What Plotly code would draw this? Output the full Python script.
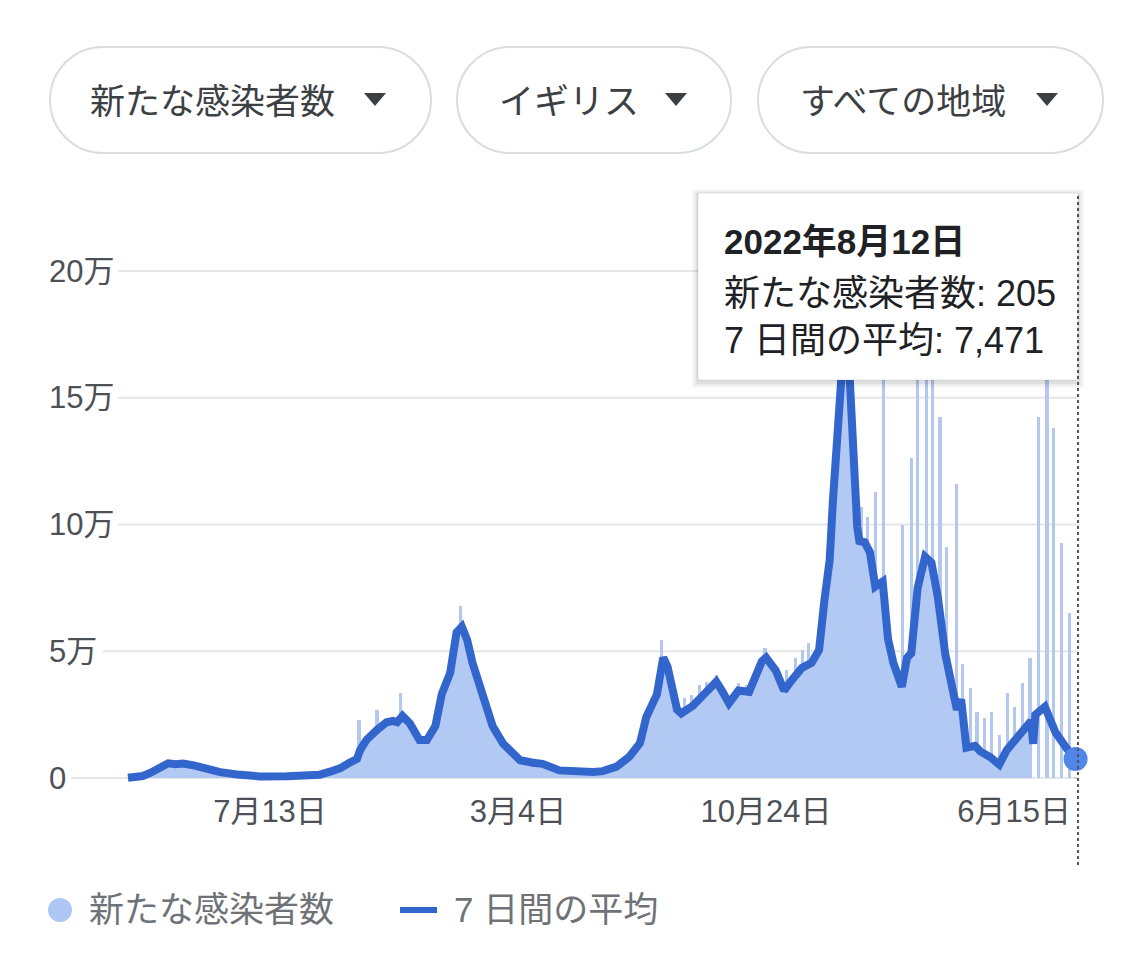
import plotly.graph_objects as go
import pandas as pd

# ---------------- data ----------------
avg_dates = [
    "2020-03-01", "2020-03-08", "2020-03-15", "2020-03-22", "2020-03-29", "2020-04-03", "2020-04-08",
    "2020-04-15", "2020-04-22", "2020-05-02", "2020-05-08", "2020-05-15", "2020-05-27", "2020-06-12",
    "2020-07-04", "2020-07-29", "2020-08-10", "2020-08-29", "2020-09-10", "2020-09-17", "2020-09-26",
    "2020-10-03", "2020-10-06", "2020-10-12", "2020-10-22", "2020-10-31", "2020-11-06", "2020-11-10",
    "2020-11-15", "2020-11-22", "2020-12-01", "2020-12-08", "2020-12-16", "2020-12-22", "2020-12-30",
    "2021-01-05", "2021-01-10", "2021-01-15", "2021-01-20", "2021-01-30", "2021-02-08", "2021-02-18",
    "2021-02-24", "2021-03-06", "2021-03-18", "2021-03-27", "2021-04-12", "2021-04-25", "2021-05-14",
    "2021-05-23", "2021-06-05", "2021-06-17", "2021-06-27", "2021-07-03", "2021-07-13", "2021-07-19",
    "2021-07-23", "2021-08-01", "2021-08-05", "2021-08-16", "2021-08-29", "2021-09-07", "2021-09-12",
    "2021-09-19", "2021-09-28", "2021-10-08", "2021-10-20", "2021-10-24", "2021-11-02", "2021-11-10",
    "2021-11-17", "2021-11-27", "2021-12-06", "2021-12-13", "2021-12-18", "2021-12-23", "2021-12-26",
    "2021-12-31", "2022-01-04", "2022-01-07", "2022-01-11", "2022-01-14", "2022-01-18", "2022-01-20",
    "2022-01-25", "2022-01-30", "2022-02-04", "2022-02-11", "2022-02-16", "2022-02-21", "2022-03-01",
    "2022-03-06", "2022-03-10", "2022-03-16", "2022-03-23", "2022-03-29", "2022-04-04", "2022-04-11",
    "2022-04-17", "2022-04-22", "2022-04-26", "2022-04-27", "2022-05-01", "2022-05-09", "2022-05-14",
    "2022-05-23", "2022-06-01", "2022-06-08", "2022-06-19", "2022-07-01", "2022-07-03", "2022-07-05",
    "2022-07-14", "2022-07-24", "2022-08-03", "2022-08-12",
]
avg_values = [
    100, 300, 800, 2000, 3500, 4800, 5800,
    5400, 5700, 5000, 4300, 3400, 2300, 1400,
    600, 700, 900, 1300, 2800, 3800, 6000,
    7500, 11000, 15000, 19000, 22000, 22500, 22000,
    24500, 21500, 15000, 15000, 20500, 33000, 41500,
    57500, 59700, 54500, 45500, 31000, 20500, 13500,
    11000, 7000, 6000, 5600, 3000, 2600, 2400,
    2700, 4500, 8400, 13700, 24000, 33000, 47500,
    44000, 27000, 25500, 28500, 34000, 38000, 34700,
    29500, 34500, 34000, 46000, 47500, 42500, 34500,
    38500, 43500, 45500, 50500, 70000, 86000, 109000,
    138000, 160000, 182000, 157000, 125500, 99000, 93500,
    93000, 89000, 75500, 77500, 55000, 45500, 36000,
    47500, 49200, 75000, 87300, 85000, 71500, 49000,
    36000, 27000, 31000, 25000, 12000, 12700, 10500,
    8400, 5300, 11000, 16300, 22500, 13500, 25000,
    28100, 18000, 12000, 7471,
]

# last day on which the daily bars still form a continuous band
dense_until = "2022-07-01"

spike_dates = [
    "2020-10-05", "2020-10-22", "2020-11-13", "2021-01-09", "2021-07-17", "2021-08-08", "2021-08-15",
    "2021-08-22", "2021-08-29", "2021-09-07", "2021-09-28", "2021-10-06", "2021-10-13", "2021-10-23",
    "2021-11-12", "2021-11-21", "2021-11-27", "2021-12-03", "2022-01-22", "2022-01-28", "2022-02-04",
    "2022-02-12", "2022-03-02", "2022-03-10", "2022-03-16", "2022-03-24", "2022-03-30", "2022-04-06",
    "2022-04-12", "2022-04-22", "2022-04-27", "2022-05-05", "2022-05-11", "2022-05-18", "2022-05-25",
    "2022-06-01", "2022-06-09", "2022-06-15", "2022-06-23", "2022-06-30", "2022-07-08", "2022-07-16",
    "2022-07-22", "2022-07-30", "2022-08-06", "2022-08-12",
]
spike_values = [
    22900, 26800, 33400, 68000, 54500, 31500, 32700,
    36700, 38000, 40600, 37500, 36700, 39400, 51200,
    42600, 47300, 50500, 53200, 107000, 103000, 113000,
    200000, 99800, 126100, 200000, 200000, 200000, 142500,
    91200, 116000, 45000, 35400, 26000, 23500, 26000,
    17000, 33400, 28000, 37400, 47200, 142500, 200000,
    138000, 92600, 65000, 205,
]

x_tick_dates = ["2020-07-13", "2021-03-04", "2021-10-24", "2022-06-15"]
x_tick_labels = ["7月13日", "3月4日", "10月24日", "6月15日"]
y_tick_values = [0, 50000, 100000, 150000, 200000]
y_tick_labels = ["0", "5万", "10万", "15万", "20万"]

last_date = "2022-08-12"
last_cases = 205
last_avg = 7471

series_names = ["新たな感染者数", "7 日間の平均"]
button_labels = ["新たな感染者数", "イギリス", "すべての地域"]

# ---------------- styling ----------------
FONT = "Liberation Sans, Noto Sans CJK JP, sans-serif"
LINE_BLUE = "#3366cc"
FILL_BLUE = "#b1c9f3"
SPIKE_BLUE = "#b3c7ef"
DOT_BLUE = "#4f86e8"

PAGE_OFF = 8                       # body margin of the html page
W, H = 1125 - PAGE_OFF, 977 - PAGE_OFF
L, R, T, B = 120, 1080, 195, 785   # plot area in screen pixels
PX_PER_DAY = 1.06
ANCHOR_DATE = pd.Timestamp("2020-07-13")
ANCHOR_X = 270
ZERO_Y = 778
PX_PER_UNIT = 507 / 200000


def px(x):
    return (x - L) / (R - L)


def py(y):
    return (B - y) / (B - T)


x_start = ANCHOR_DATE + pd.Timedelta(days=(L - ANCHOR_X) / PX_PER_DAY)
x_end = ANCHOR_DATE + pd.Timedelta(days=(R - ANCHOR_X) / PX_PER_DAY)
y_min = -(B - ZERO_Y) / PX_PER_UNIT
y_max = (ZERO_Y - T) / PX_PER_UNIT

dense_n = avg_dates.index(dense_until) + 1

fig = go.Figure()

# dense band of daily bars (continuous until reporting became sparse)
fig.add_trace(go.Scatter(
    x=avg_dates[:dense_n], y=avg_values[:dense_n], mode="lines", line=dict(width=0, color=FILL_BLUE),
    fill="tozeroy", fillcolor=FILL_BLUE, hoverinfo="skip", showlegend=False,
))
# daily bars that stand out
fig.add_trace(go.Bar(
    x=spike_dates, y=spike_values, name=series_names[0], marker=dict(color=SPIKE_BLUE, line=dict(width=0)),
    width=3.0 * 86400000, showlegend=False,
))
# 7-day average line
fig.add_trace(go.Scatter(
    x=avg_dates, y=avg_values, mode="lines", name=series_names[1],
    line=dict(color=LINE_BLUE, width=8), showlegend=False,
))
# last point marker
fig.add_trace(go.Scatter(
    x=[last_date], y=[last_avg], mode="markers",
    marker=dict(size=24, color=DOT_BLUE), showlegend=False, cliponaxis=False,
))

shapes = []
annotations = []

# gridlines (start right after each label)
grid_starts = [71, 103, 118, 118, 118]
for v, gs in zip(y_tick_values, grid_starts):
    shapes.append(dict(type="line", xref="paper", yref="y", x0=px(gs), x1=px(1078), y0=v, y1=v,
                       line=dict(color="#e6e6e6", width=2), layer="below"))
for v, lab in zip(y_tick_values, y_tick_labels):
    annotations.append(dict(xref="paper", yref="y", x=px(47), y=v, text=lab, showarrow=False,
                            xanchor="left", yanchor="middle",
                            font=dict(family=FONT, size=31, color="#4d5156")))


# pill buttons
def pill(x0, x1, y0, y1):
    r = (y1 - y0) / 2
    cy = (y0 + y1) / 2
    k = 0.5523 * r
    pts = [
        ("M", [(x0 + r, y0)]),
        ("L", [(x1 - r, y0)]),
        ("C", [(x1 - r + k, y0), (x1, cy - k), (x1, cy)]),
        ("C", [(x1, cy + k), (x1 - r + k, y1), (x1 - r, y1)]),
        ("L", [(x0 + r, y1)]),
        ("C", [(x0 + r - k, y1), (x0, cy + k), (x0, cy)]),
        ("C", [(x0, cy - k), (x0 + r - k, y0), (x0 + r, y0)]),
    ]
    s = ""
    for cmd, ps in pts:
        s += cmd + " " + " ".join(f"{px(a):.5f},{py(b):.5f}" for a, b in ps) + " "
    return s + "Z"


def tri(cx, cy):
    return (f"M {px(cx - 11):.5f},{py(cy - 6):.5f} L {px(cx + 11):.5f},{py(cy - 6):.5f} "
            f"L {px(cx):.5f},{py(cy + 7):.5f} Z")


buttons = [(50, 431, 88, 375), (457, 731, 497, 676), (758, 1103, 798, 1047)]
for (bx0, bx1, tx, trx), lab in zip(buttons, button_labels):
    shapes.append(dict(type="path", xref="paper", yref="paper", path=pill(bx0, bx1, 47, 153),
                       line=dict(color="#dadce0", width=2), fillcolor="white", layer="above"))
    shapes.append(dict(type="path", xref="paper", yref="paper", path=tri(trx, 99),
                       line=dict(width=0), fillcolor="#3c4043", layer="above"))
    annotations.append(dict(xref="paper", yref="paper", x=px(tx), y=py(101), text=lab, showarrow=False,
                            xanchor="left", yanchor="middle",
                            font=dict(family=FONT, size=35, color="#3c4043")))

# tooltip box with soft shadow
tx0, tx1, ty0, ty1 = 698, 1078, 193, 380
for grow, alpha in [(6, 0.03), (4, 0.04), (2, 0.06)]:
    shapes.append(dict(type="rect", xref="paper", yref="paper",
                       x0=px(tx0 - grow), x1=px(tx1 + grow), y0=py(ty1 + grow + 2), y1=py(ty0 - grow + 2),
                       line=dict(width=0), fillcolor=f"rgba(0,0,0,{alpha})", layer="above"))
shapes.append(dict(type="rect", xref="paper", yref="paper", x0=px(tx0), x1=px(tx1), y0=py(ty1), y1=py(ty0),
                   line=dict(color="rgba(0,0,0,0.10)", width=1), fillcolor="white", layer="above"))
# dotted hover line
shapes.append(dict(type="line", xref="paper", yref="paper", x0=px(1078), x1=px(1078), y0=py(865), y1=py(195),
                   line=dict(color="#555555", width=2, dash="dot"), layer="above"))

d = pd.Timestamp(last_date)
date_text = f"{d.year}年{d.month}月{d.day}日"
tip_lines = [
    (f"<b>{date_text}</b>", 241, 35),
    (f"{series_names[0]}: {last_cases:,}", 293, 36),
    (f"{series_names[1]}: {last_avg:,}", 340, 36),
]
for text, yy, fs in tip_lines:
    annotations.append(dict(xref="paper", yref="paper", x=px(722), y=py(yy), text=text, showarrow=False,
                            xanchor="left", yanchor="middle",
                            font=dict(family=FONT, size=fs, color="#202124")))

# legend (drawn manually)
shapes.append(dict(type="circle", xref="paper", yref="paper", x0=px(48), x1=px(72), y0=py(922), y1=py(898),
                   line=dict(width=0), fillcolor="#aec6f4"))
annotations.append(dict(xref="paper", yref="paper", x=px(87), y=py(910), text=series_names[0], showarrow=False,
                        xanchor="left", yanchor="middle", font=dict(family=FONT, size=35, color="#6f7378")))
shapes.append(dict(type="line", xref="paper", yref="paper", x0=px(400), x1=px(437), y0=py(910), y1=py(910),
                   line=dict(color=LINE_BLUE, width=6)))
annotations.append(dict(xref="paper", yref="paper", x=px(452), y=py(910), text=series_names[1], showarrow=False,
                        xanchor="left", yanchor="middle", font=dict(family=FONT, size=35, color="#6f7378")))

fig.update_layout(
    width=W, height=H,
    margin=dict(l=L - PAGE_OFF, r=W - (R - PAGE_OFF), t=T - PAGE_OFF, b=H - (B - PAGE_OFF), pad=0),
    paper_bgcolor="white", plot_bgcolor="white",
    bargap=0, showlegend=False, hovermode=False,
    shapes=shapes, annotations=annotations,
    xaxis=dict(type="date", range=[x_start, x_end], showgrid=False, zeroline=False, showline=False,
               tickmode="array", tickvals=x_tick_dates, ticktext=x_tick_labels, ticks="",
               ticklabelstandoff=5,
               tickfont=dict(family=FONT, size=31, color="#4d5156")),
    yaxis=dict(range=[y_min, y_max], showgrid=False, zeroline=False, showline=False, showticklabels=False,
               tickvals=y_tick_values),
)

fig.write_html("out.html")
